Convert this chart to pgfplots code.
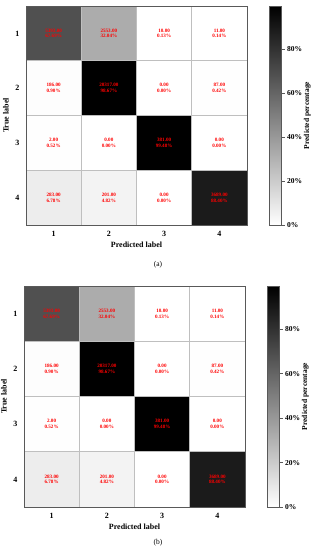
\documentclass[border=0pt]{standalone}
\usepackage{fontspec}
\setmainfont{Liberation Serif}
\usepackage{pgfplots}
\usepackage{pgfplotstable}
\pgfplotsset{compat=1.18}

\pgfplotstableread{
x y pct cnt
1 1 67.69 5393.00
2 1 32.04 2553.00
3 1 0.13 10.00
4 1 0.14 11.00
1 2 0.90 186.00
2 2 98.67 20317.00
3 2 0.00 0.00
4 2 0.42 87.00
1 3 0.52 2.00
2 3 0.00 0.00
3 3 99.48 381.00
4 3 0.00 0.00
1 4 6.78 283.00
2 4 4.82 201.00
3 4 0.00 0.00
4 4 88.40 3689.00
}\cmtab

\pgfplotsset{
  cmstyle/.style={
    scale only axis, width=221pt, height=#1,
    xmin=0.5, xmax=4.5, ymin=0.5, ymax=4.5, y dir=reverse,
    enlargelimits=false,
    xtick={1,2,3,4}, ytick={1,2,3,4},
    xticklabels={1,2,3,4}, yticklabels={1,2,3,4},
    major tick length=0pt,
    minor xtick={1.5,2.5,3.5}, minor ytick={1.5,2.5,3.5},
    minor tick length=0pt,
    xminorgrids, yminorgrids,
    minor grid style={black!25, line width=0.9pt},
    axis line style={black!65, line width=0.9pt},
    axis on top,
    xticklabel style={font=\fontsize{8}{9}\selectfont\bfseries, yshift=-3pt},
    yticklabel style={font=\fontsize{8}{9}\selectfont\bfseries, xshift=-3pt},
    xlabel={Predicted label}, ylabel={True label},
    xlabel style={font=\fontsize{8}{9}\selectfont\bfseries, yshift=2pt},
    ylabel style={font=\fontsize{8}{9}\selectfont\bfseries, yshift=0pt},
    colormap={bw}{color=(white) color=(black)},
    point meta min=0, point meta max=99.48,
    colorbar,
    colorbar style={
      at={(parent axis.north east)}, anchor=north west, xshift=14pt,
      width=12pt,
      ytick={0,20,40,60,80}, yticklabels={0\%,20\%,40\%,60\%,80\%},
      ytick pos=right, tick align=outside, major tick length=3pt,
      tick style={black!65, line width=0.6pt},
      axis line style={black!65, line width=0.6pt},
      yticklabel style={font=\fontsize{7.5}{9}\selectfont\bfseries, xshift=-1pt},
      ylabel={Predicted percentage},
      ylabel style={font=\fontsize{7.5}{9}\selectfont\bfseries, yshift=5pt},
    },
  },
  cellplot/.style={
    draw=none, mark=none,
    point meta=explicit symbolic,
    visualization depends on={\thisrow{pct} \as \pct},
    nodes near coords={\pgfplotspointmeta\\\pgfmathprintnumber[fixed,fixed zerofill,precision=2,assume math mode=true]{\pct}\%},
    every node near coord/.append style={anchor=center, align=center,
      text=red, inner sep=0pt,
      font=\fontsize{5.1}{5.6}\selectfont\bfseries},
  },
}

\begin{document}
\begin{tikzpicture}[x=1pt,y=1pt]
\path[use as bounding box] (0,0) rectangle (316,-550);

\begin{axis}[cmstyle=219pt, at={(26pt,-6pt)}, anchor=north west]
  \addplot[matrix plot*, mesh/cols=4, point meta=explicit]
    table[x=x, y=y, meta=pct] {\cmtab};
  \addplot[cellplot] table[x=x, y=y, meta=cnt] {\cmtab};
\end{axis}
\node[font=\fontsize{7.5}{9}\selectfont] at (158,-265) {(a)};

\begin{axis}[cmstyle=221pt, at={(24pt,-286pt)}, anchor=north west]
  \addplot[matrix plot*, mesh/cols=4, point meta=explicit]
    table[x=x, y=y, meta=pct] {\cmtab};
  \addplot[cellplot] table[x=x, y=y, meta=cnt] {\cmtab};
\end{axis}
\node[font=\fontsize{7.5}{9}\selectfont] at (158,-543) {(b)};
\end{tikzpicture}
\end{document}
